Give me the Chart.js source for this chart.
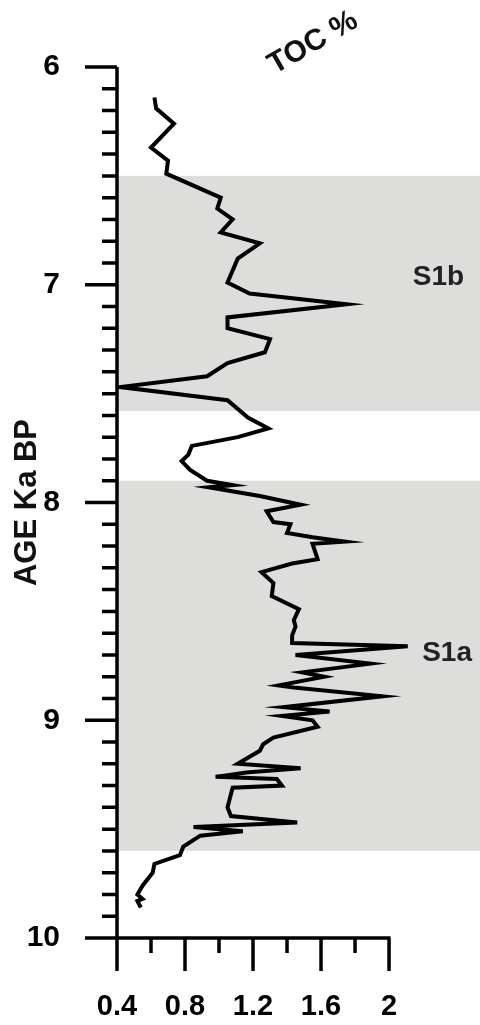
<!DOCTYPE html>
<html>
<head>
<meta charset="utf-8">
<script src="https://cdn.jsdelivr.net/npm/chart.js@4.4.1/dist/chart.umd.min.js"></script>
<style>
  html, body { margin: 0; padding: 0; background: #fff; }
  canvas { display: block; }
</style>
</head>
<body>
<canvas id="chart" width="480" height="1025"></canvas>
<script>
// TOC profile against age (Ka BP)
const ages = [
  6.14, 6.19, 6.26, 6.37, 6.43, 6.49, 6.60, 6.65, 6.70, 6.76,
  6.81, 6.88, 6.99, 7.04, 7.09, 7.15, 7.20, 7.25, 7.31, 7.36,
  7.42, 7.47, 7.53, 7.61, 7.66, 7.70, 7.74, 7.78, 7.81, 7.85,
  7.90, 7.92, 7.93, 7.97, 8.01, 8.04, 8.09, 8.10, 8.14, 8.16,
  8.18, 8.19, 8.26, 8.28, 8.32, 8.37, 8.43, 8.49, 8.54, 8.57,
  8.61, 8.645, 8.66, 8.70, 8.74, 8.78, 8.80, 8.84, 8.85, 8.89,
  8.94, 8.96, 8.98, 9.00, 9.03, 9.08, 9.11, 9.14, 9.20, 9.22,
  9.24, 9.26, 9.27, 9.30, 9.31, 9.40, 9.44, 9.47, 9.49, 9.51,
  9.53, 9.58, 9.62, 9.66, 9.70, 9.76, 9.80, 9.82, 9.83, 9.86
];
const toc = [
  0.62, 0.63, 0.735, 0.60, 0.70, 0.69, 1.01, 0.99, 1.08, 1.01,
  1.24, 1.11, 1.05, 1.18, 1.75, 1.05, 1.05, 1.30, 1.27, 1.05,
  0.93, 0.42, 1.05, 1.17, 1.29, 1.11, 0.84, 0.82, 0.78, 0.83,
  0.93, 1.08, 0.94, 1.24, 1.48, 1.28, 1.32, 1.42, 1.40, 1.55,
  1.74, 1.55, 1.58, 1.43, 1.25, 1.32, 1.31, 1.47, 1.44, 1.45,
  1.43, 1.43, 2.11, 1.45, 1.89, 1.49, 1.62, 1.35, 1.44, 1.96,
  1.38, 1.65, 1.37, 1.55, 1.58, 1.32, 1.26, 1.24, 1.11, 1.48,
  1.16, 0.98, 1.34, 1.37, 1.08, 1.05, 1.07, 1.46, 0.85, 1.14,
  0.89, 0.79, 0.77, 0.62, 0.61, 0.55, 0.52, 0.55, 0.52, 0.54
];

// sapropel intervals
const bandNames = ['S1b', 'S1a'];
const bandTop = [6.5, 7.9];
const bandBase = [7.58, 9.6];

const xTicks = [0.4, 0.8, 1.2, 1.6, 2];
const yTicks = [6, 7, 8, 9, 10];

const FONT = '"Liberation Sans", Arial, sans-serif';

const points = ages.map((a, i) => ({ x: toc[i], y: a }));

const bandsPlugin = {
  id: 'bands',
  beforeDatasetsDraw(chart) {
    const { ctx, chartArea, scales } = chart;
    ctx.save();
    ctx.fillStyle = '#dddddb';
    for (let i = 0; i < bandTop.length; i++) {
      const y1 = scales.y.getPixelForValue(bandTop[i]);
      const y2 = scales.y.getPixelForValue(bandBase[i]);
      ctx.fillRect(chartArea.left, y1, chartArea.right - chartArea.left, y2 - y1);
    }
    ctx.restore();
  }
};

const axesPlugin = {
  id: 'axes',
  afterDatasetsDraw(chart) {
    const { ctx, chartArea, scales } = chart;
    const x = scales.x, y = scales.y;
    const x0 = chartArea.left, yb = chartArea.bottom;
    ctx.save();
    ctx.strokeStyle = '#000';
    ctx.lineWidth = 3.5;
    ctx.lineCap = 'butt';
    ctx.beginPath();
    // vertical axis
    ctx.moveTo(x0, chartArea.top);
    ctx.lineTo(x0, yb + 33);
    // horizontal axis, up to 2
    ctx.moveTo(x0 - 32, yb);
    ctx.lineTo(x.getPixelForValue(2) + 1.5, yb);
    // age ticks: every 0.1, long at whole Ka
    for (let k = 0; k <= 40; k++) {
      const v = 6 + k / 10;
      const py = y.getPixelForValue(v);
      const len = k % 10 === 0 ? 32 : 15;
      ctx.moveTo(x0 - len, py);
      ctx.lineTo(x0, py);
    }
    // TOC ticks: every 0.2, long at labels
    for (let k = 1; k <= 8; k++) {
      const v = 0.4 + k * 0.2;
      const px = x.getPixelForValue(v);
      const len = k % 2 === 0 ? 33 : 15;
      ctx.moveTo(px, yb);
      ctx.lineTo(px, yb + len);
    }
    ctx.stroke();

    // interval names
    ctx.fillStyle = '#222';
    ctx.font = 'bold 28px ' + FONT;
    ctx.textBaseline = 'alphabetic';
    ctx.textAlign = 'left';
    ctx.fillText(bandNames[0], x.getPixelForValue(2.14), y.getPixelForValue(7.0));
    ctx.fillText(bandNames[1], x.getPixelForValue(2.195), y.getPixelForValue(8.73));

    // rotated top label
    ctx.translate(313, 43);
    ctx.rotate(-30 * Math.PI / 180);
    ctx.font = 'bold 30px ' + FONT;
    ctx.textAlign = 'center';
    ctx.textBaseline = 'middle';
    ctx.fillStyle = '#111';
    ctx.fillText('TOC %', 0, 0);
    ctx.restore();
  }
};

new Chart(document.getElementById('chart'), {
  type: 'scatter',
  data: {
    datasets: [{
      label: 'TOC %',
      data: points,
      showLine: true,
      borderColor: '#000',
      borderWidth: 4,
      borderJoinStyle: 'miter',
      pointRadius: 0,
      tension: 0
    }]
  },
  options: {
    responsive: false,
    animation: false,
    events: [],
    layout: { padding: { top: 67, right: 0, bottom: 0, left: 0 } },
    plugins: {
      legend: { display: false },
      tooltip: { enabled: false }
    },
    scales: {
      x: {
        type: 'linear',
        position: 'bottom',
        min: 0.4,
        max: 2.535,
        grid: { display: false },
        border: { display: false },
        afterBuildTicks: s => { s.ticks = xTicks.map(v => ({ value: v })); },
        afterFit: s => { s.height = 87; },
        ticks: {
          padding: 44,
          color: '#000',
          maxRotation: 0,
          font: { family: FONT, size: 29, weight: 'bold' },
          callback: v => String(v)
        }
      },
      y: {
        type: 'linear',
        position: 'left',
        reverse: true,
        min: 6,
        max: 10,
        grid: { display: false },
        border: { display: false },
        afterBuildTicks: s => { s.ticks = yTicks.map(v => ({ value: v })); },
        afterFit: s => { s.width = 117; },
        ticks: {
          padding: 49,
          color: '#000',
          font: { family: FONT, size: 30, weight: 'bold' },
          callback: v => String(v)
        },
        title: {
          display: true,
          text: 'AGE Ka BP',
          color: '#111',
          padding: { top: 9, bottom: 0 },
          font: { family: FONT, size: 31, weight: 'bold' }
        }
      }
    }
  },
  plugins: [bandsPlugin, axesPlugin]
});
</script>
</body>
</html>
